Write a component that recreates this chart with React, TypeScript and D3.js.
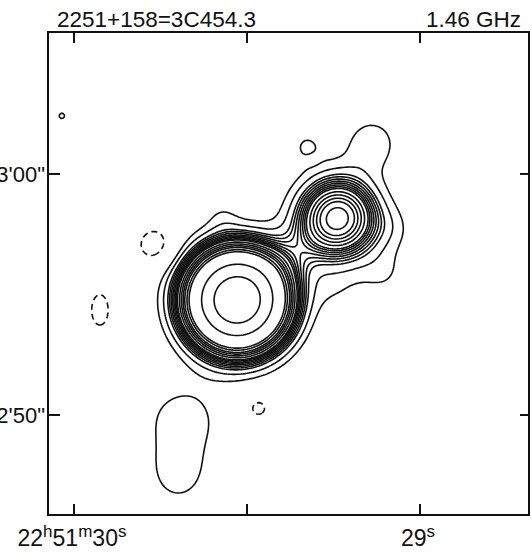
import React, { useMemo } from "react";
import * as d3 from "d3";

// ---- Data -------------------------------------------------------------
// Source components (RA seconds of 22h51m, Dec arcsec of +15°52', peak, sigmas in arcsec, PA deg E of N)
const COMP_NAMES = ["core", "jet", "NE knot", "NE halo", "N lobe", "N spot", "gap", "E shelf", "SE shelf", "S shelf", "NW bump", "S blob a", "S blob b", "neg W1", "neg W2", "neg S", "NW speck"];
const COMP_RA = [29.529, 29.382, 29.237, 29.237, 29.139, 29.327, 29.309, 29.076, 29.104, 29.246, 29.572, 29.685, 29.699, 29.766, 29.925, 29.468, 30.035];
const COMP_DEC = [54.77, 56.51, 58.17, 58.17, 61.29, 61.16, 60.58, 57.72, 55.85, 55.19, 58.3, 49.79, 47.55, 57.05, 54.36, 50.29, 62.41];
const COMP_PEAK = [100, 3, 12.5, 14, 4.3, 3.0, -0.8, 1.8, 2.6, 1.9, 1.8, 4.1, 3.9, -4.5, -3.8, -3.8, 3.5];
const COMP_SMAJ = [1.25, 1.67, 0.92, 1.25, 0.83, 0.5, 0.25, 0.67, 0.83, 0.75, 0.5, 1.17, 1.0, 0.67, 0.92, 0.46, 0.21];
const COMP_SMIN = [1.25, 0.75, 0.92, 1.25, 0.83, 0.5, 0.25, 0.67, 0.83, 0.75, 0.5, 1.25, 0.92, 0.67, 0.5, 0.46, 0.21];
const COMP_PA = [0, 310, 0, 0, 0, 0, 0, 0, 0, 0, 0, 0, 0, 0, 0, 0, 0];

// contour levels (percent of peak)
const POS_LEVELS = [3, 5, 7, 8, 9, 10, 11, 12, 13, 14, 16, 18, 20, 22, 25, 28, 50, 75];
const NEG_LEVELS = [-3];

// axes
const RA_TICKS = [30, 29.5, 29];
const RA_LABELS: { v: number; parts: [string, string][] }[] = [
  { v: 30, parts: [["22", "h"], ["51", "m"], ["30", "s"]] },
  { v: 29, parts: [["29", "s"]] },
];
const DEC_TICKS = [60, 50];
const DEC_LABELS = ["15°53'00\"", "52'50\""];
const TITLE = "2251+158=3C454.3";
const FREQ = "1.46 GHz";

// ---- Layout -----------------------------------------------------------
const W = 532, H = 558;
const L = 48, R = 529, T = 32, B = 515;
const STEP = 2;

export default function App() {
  const x = d3.scaleLinear().domain([30.0751, 28.685]).range([L, R]);
  const y = d3.scaleLinear().domain([65.89, 45.85]).range([T, B]);

  const { pos, neg } = useMemo(() => {
    const nx = Math.ceil((R - L) / STEP);
    const ny = Math.ceil((B - T) / STEP);
    const vals = new Float64Array(nx * ny);
    for (let j = 0; j < ny; j++) {
      for (let i = 0; i < nx; i++) {
        const ra = x.invert(L + (i + 0.5) * STEP);
        const dec = y.invert(T + (j + 0.5) * STEP);
        const cosd = Math.cos(((15 + 52 / 60 + dec / 3600) * Math.PI) / 180);
        let v = 0;
        for (let k = 0; k < COMP_RA.length; k++) {
          const du = -(ra - COMP_RA[k]) * 15 * cosd; // west positive
          const dv = dec - COMP_DEC[k];
          const pa = (COMP_PA[k] * Math.PI) / 180;
          const a = du * -Math.sin(pa) + dv * Math.cos(pa);
          const b = du * Math.cos(pa) + dv * Math.sin(pa);
          v += COMP_PEAK[k] * Math.exp(-(a * a) / (2 * COMP_SMAJ[k] ** 2) - (b * b) / (2 * COMP_SMIN[k] ** 2));
        }
        vals[j * nx + i] = v;
      }
    }
    const negVals = Array.from(vals, (v) => -v);
    const gen = d3.contours().size([nx, ny]);
    return {
      pos: gen.thresholds(POS_LEVELS)(Array.from(vals)),
      neg: gen.thresholds(NEG_LEVELS.map((l) => -l))(negVals),
    };
  }, []);

  const path = d3.geoPath(d3.geoIdentity().scale(STEP).translate([L, T]) as any);
  const font = "'Liberation Sans', Arial, sans-serif";

  return (
    <svg width={W} height={H} style={{ position: "absolute", left: 0, top: 0, background: "#fff" }} fontFamily={font}>
      <defs>
        <clipPath id="frame">
          <rect x={L} y={T} width={R - L} height={B - T} />
        </clipPath>
      </defs>
      <g clipPath="url(#frame)" fill="none" stroke="#111" strokeLinejoin="round">
        {pos.map((c, i) => (
          <path key={"p" + i} d={path(c as any) || ""} strokeWidth={1.6} />
        ))}
        {neg.map((c, i) => (
          <path key={"n" + i} d={path(c as any) || ""} strokeWidth={1.6} strokeDasharray="6,4" />
        ))}
      </g>
      <rect x={L} y={T} width={R - L} height={B - T} fill="none" stroke="#111" strokeWidth={2} />
      {RA_TICKS.map((t) => (
        <g key={"rt" + t} stroke="#111" strokeWidth={2}>
          <line x1={x(t)} x2={x(t)} y1={T} y2={T + 11} />
          <line x1={x(t)} x2={x(t)} y1={B} y2={B - 11} />
        </g>
      ))}
      {DEC_TICKS.map((t) => (
        <g key={"dt" + t} stroke="#111" strokeWidth={2}>
          <line x1={L} x2={L + 12} y1={y(t)} y2={y(t)} />
          <line x1={R} x2={R - 9} y1={y(t)} y2={y(t)} />
        </g>
      ))}
      {DEC_TICKS.map((t, i) => (
        <text key={"dl" + t} x={L - 3} y={y(t) + 8} textAnchor="end" fontSize={22} fill="#111">
          {DEC_LABELS[i]}
        </text>
      ))}
      {RA_LABELS.map((lab) => (
        <text key={"rl" + lab.v} x={x(lab.v) - 2} y={546} textAnchor="middle" fontSize={23} fill="#111">
          {lab.parts.map(([n, s], k) => (
            <React.Fragment key={k}>
              <tspan dy={k === 0 ? 0 : 9}>{n}</tspan>
              <tspan fontSize={17} dy={-9}>{s}</tspan>
            </React.Fragment>
          ))}
        </text>
      ))}
      <text x={57} y={27} fontSize={22.5} fill="#111">{TITLE}</text>
      <text x={521} y={27} fontSize={22.5} fill="#111" textAnchor="end">{FREQ}</text>
    </svg>
  );
}
